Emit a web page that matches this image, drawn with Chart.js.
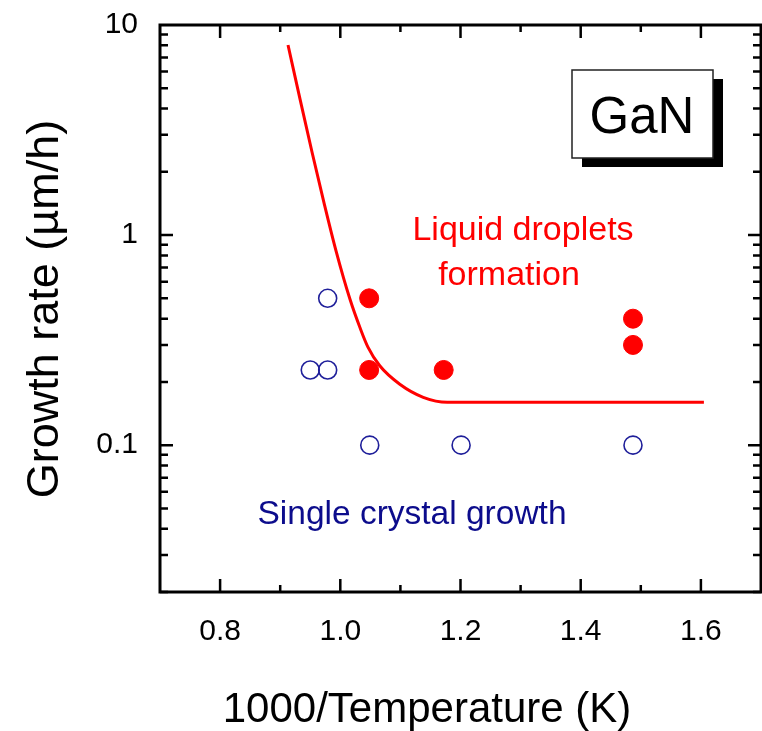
<!DOCTYPE html>
<html>
<head>
<meta charset="utf-8">
<script src="https://cdn.jsdelivr.net/npm/chart.js@4.4.0/dist/chart.umd.min.js"></script>
<style>
  html, body { margin: 0; padding: 0; background: #fff; }
  #wrap { width: 762px; height: 731px; }
</style>
</head>
<body>
<div id="wrap"><canvas id="chart" width="762" height="731"></canvas></div>
<script>
// values
const singleX = [0.979, 0.950, 0.979, 1.049, 1.201, 1.487];
const singleY = [0.50, 0.228, 0.228, 0.10, 0.10, 0.10];
const dropletX = [1.048, 1.048, 1.172, 1.487, 1.487];
const dropletY = [0.50, 0.228, 0.228, 0.40, 0.30];
const boundaryX = [0.913, 0.933, 0.953, 0.973, 0.993, 1.016, 1.033, 1.046, 1.066, 1.099, 1.138, 1.178, 1.605];
const boundaryY = [8.03, 4.44, 2.48, 1.42, 0.839, 0.496, 0.361, 0.293, 0.238, 0.195, 0.169, 0.160, 0.160];
const xTicks = [0.8, 1.0, 1.2, 1.4, 1.6];
const yTicks = [0.1, 1, 10];

const FONT = "'Liberation Sans', Arial, Helvetica, sans-serif";

function pts(xs, ys) {
    return xs.map((x, i) => ({ x: x, y: ys[i] }));
}

// frame with inward ticks on all four sides
const framePlugin = {
    id: 'frame',
    afterDraw(chart) {
        const { ctx, chartArea: a, scales: { x, y } } = chart;
        ctx.save();
        ctx.strokeStyle = '#000';
        ctx.lineWidth = 3;
        ctx.strokeRect(a.left, a.top, a.right - a.left, a.bottom - a.top);

        ctx.lineWidth = 2.5;
        ctx.beginPath();
        for (let i = 1; i < 10; i++) {
            const v = 0.7 + i * 0.1;
            const px = x.getPixelForValue(v);
            const len = (i % 2 === 1) ? 13 : 7;
            ctx.moveTo(px, a.bottom);
            ctx.lineTo(px, a.bottom - len);
            ctx.moveTo(px, a.top);
            ctx.lineTo(px, a.top + len);
        }
        [0.01, 0.1, 1].forEach(d => {
            for (let m = 1; m <= 9; m++) {
                const v = d * m;
                if (v < 0.02 - 1e-9 || v > 10) continue;
                const py = y.getPixelForValue(v);
                const len = m === 1 ? 13 : 8;
                ctx.moveTo(a.left, py);
                ctx.lineTo(a.left + len, py);
                ctx.moveTo(a.right, py);
                ctx.lineTo(a.right - len, py);
            }
        });
        ctx.stroke();
        ctx.restore();
    }
};

// labels, GaN box and axis titles
const notesPlugin = {
    id: 'notes',
    afterDraw(chart) {
        const ctx = chart.ctx;
        ctx.save();

        // GaN box with drop shadow
        ctx.fillStyle = '#000';
        ctx.fillRect(582, 79, 141, 88);
        ctx.fillStyle = '#fff';
        ctx.fillRect(572, 70, 141, 88);
        ctx.strokeStyle = '#222';
        ctx.lineWidth = 1.5;
        ctx.strokeRect(572, 70, 141, 88);
        ctx.fillStyle = '#000';
        ctx.font = '51px ' + FONT;
        ctx.textAlign = 'center';
        ctx.textBaseline = 'alphabetic';
        ctx.fillText('GaN', 642, 133);

        ctx.font = '34px ' + FONT;
        ctx.fillStyle = '#ff0000';
        ctx.fillText('Liquid droplets', 523, 240);
        ctx.fillText('formation', 509, 285);

        ctx.font = '33.5px ' + FONT;
        ctx.fillStyle = '#0c0c8c';
        ctx.fillText('Single crystal growth', 412, 524);

        ctx.fillStyle = '#000';
        ctx.font = '42px ' + FONT;
        ctx.fillText('1000/Temperature (K)', 427, 722);

        ctx.font = '45px ' + FONT;
        ctx.translate(58, 309);
        ctx.rotate(-Math.PI / 2);
        ctx.fillText('Growth rate (\u00b5m/h)', 0, 0);
        ctx.restore();
    }
};

new Chart(document.getElementById('chart'), {
    type: 'scatter',
    data: {
        datasets: [
            {
                label: 'boundary',
                type: 'line',
                data: pts(boundaryX, boundaryY),
                borderColor: '#ff0000',
                borderWidth: 3,
                pointRadius: 0,
                fill: false,
                cubicInterpolationMode: 'monotone',
            },
            {
                label: 'single crystal',
                data: pts(singleX, singleY),
                pointStyle: 'circle',
                pointRadius: 9,
                borderWidth: 1.6,
                borderColor: '#1f1f9a',
                backgroundColor: 'rgba(255,255,255,0)',
            },
            {
                label: 'droplets',
                data: pts(dropletX, dropletY),
                pointStyle: 'circle',
                pointRadius: 9.5,
                borderWidth: 1,
                borderColor: '#ff0000',
                backgroundColor: '#ff0000',
            },
        ],
    },
    options: {
        responsive: false,
        animation: false,
        layout: { autoPadding: false, padding: { top: 25, right: 1, left: 0, bottom: 0 } },
        plugins: {
            legend: { display: false },
            tooltip: { enabled: false },
        },
        scales: {
            x: {
                type: 'linear',
                min: 0.7,
                max: 1.7,
                grid: { display: false, drawTicks: false },
                border: { display: false },
                afterBuildTicks: s => { s.ticks = xTicks.map(v => ({ value: v })); },
                afterFit: s => {
                    s.height = 139;
                    s.paddingLeft = 0;
                    s.paddingRight = 0;
                },
                ticks: {
                    padding: 22,
                    color: '#000',
                    font: { size: 30, family: FONT },
                    callback: v => Number(v).toFixed(1),
                },
            },
            y: {
                type: 'logarithmic',
                min: 0.02,
                max: 10,
                grid: { display: false, drawTicks: false },
                border: { display: false },
                afterBuildTicks: s => { s.ticks = yTicks.map(v => ({ value: v })); },
                afterFit: s => {
                    s.width = 160;
                    s.paddingTop = 0;
                    s.paddingBottom = 0;
                },
                ticks: {
                    padding: 22,
                    color: '#000',
                    font: { size: 30, family: FONT },
                    callback: v => String(v),
                },
            },
        },
    },
    plugins: [framePlugin, notesPlugin],
});
</script>
</body>
</html>
